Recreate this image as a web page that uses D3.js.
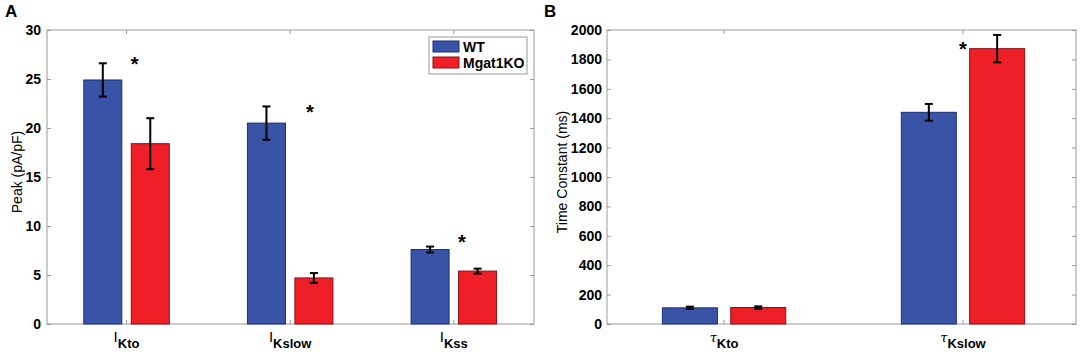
<!DOCTYPE html>
<html>
<head>
<meta charset="utf-8">
<script src="https://cdn.jsdelivr.net/npm/d3@7"></script>
<style>
  body { margin: 0; background: #fff; }
  svg { font-family: "Liberation Sans", Arial, sans-serif; }
  .tick text { font-weight: bold; font-size: 14px; fill: #000; }
</style>
</head>
<body>
<svg width="1084" height="354"></svg>
<script>
var svg = d3.select("svg");

// panel A data
var groupsA = ["Kto", "Kslow", "Kss"];
var wtA = [24.9, 20.5, 7.6];
var wtErrA = [1.7, 1.7, 0.3];
var koA = [18.4, 4.7, 5.4];
var koErrA = [2.6, 0.5, 0.25];
// significance stars: x offset (category units) and height (data units)
var starXA = [0.05, 0.12, 0.05];
var starYA = [26.6, 21.7, 8.5];

// panel B data
var groupsB = ["Kto", "Kslow"];
var wtB = [110, 1440];
var wtErrB = [8, 57];
var koB = [112, 1873];
var koErrB = [8, 93];
var starXB = [null, 0];
var starYB = [null, 1880];

var blue = "#3953a6", red = "#ee1f26";
var series = ["WT", "Mgat1KO"];

function panel(opt) {
  var x = d3.scaleLinear().domain(opt.xdom).range(opt.xr);
  var y = d3.scaleLinear().domain(opt.ydom).range([324, 30]);
  var g = svg.append("g");

  // frame
  g.append("rect")
    .attr("x", opt.xr[0]).attr("y", 30)
    .attr("width", opt.xr[1] - opt.xr[0]).attr("height", 294)
    .attr("fill", "none").attr("stroke", "#999").attr("stroke-width", 1);

  // y axis left and right
  var ya = g.append("g").attr("transform", "translate(" + opt.xr[0] + ",0)")
    .call(d3.axisLeft(y).tickValues(opt.yticks).tickSize(-4).tickPadding(opt.pad)
      .tickFormat(d3.format("d")));
  ya.select(".domain").remove();
  ya.selectAll("line").attr("stroke", "#999");
  var yr = g.append("g").attr("transform", "translate(" + opt.xr[1] + ",0)")
    .call(d3.axisRight(y).tickValues(opt.yticks).tickSize(-4).tickFormat(""));
  yr.select(".domain").remove();
  yr.selectAll("line").attr("stroke", "#999");

  // x ticks bottom and top
  var idx = d3.range(1, opt.groups.length + 1);
  g.selectAll(".xt").data(idx).enter().append("line")
    .attr("x1", d => x(d)).attr("x2", d => x(d))
    .attr("y1", 324).attr("y2", 320).attr("stroke", "#999");
  g.selectAll(".xt2").data(idx).enter().append("line")
    .attr("x1", d => x(d)).attr("x2", d => x(d))
    .attr("y1", 30).attr("y2", 34).attr("stroke", "#999");

  var sets = [
    { vals: opt.wt, err: opt.wtErr, off: -opt.off, fill: blue, stroke: "#1c2f7a" },
    { vals: opt.ko, err: opt.koErr, off: opt.off, fill: red, stroke: "#8a1015" }
  ];
  sets.forEach(function (s) {
    g.selectAll(null).data(s.vals).enter().append("rect")
      .attr("x", (d, i) => x(i + 1 + s.off) - opt.bw / 2)
      .attr("width", opt.bw)
      .attr("y", d => y(d))
      .attr("height", d => y(0) - y(d))
      .attr("fill", s.fill).attr("stroke", s.stroke).attr("stroke-width", 1);
    var eb = g.selectAll(null).data(s.vals).enter().append("g")
      .attr("stroke", "#000").attr("stroke-width", 2);
    eb.append("line")
      .attr("x1", (d, i) => x(i + 1 + s.off)).attr("x2", (d, i) => x(i + 1 + s.off))
      .attr("y1", (d, i) => y(d + s.err[i])).attr("y2", (d, i) => y(d - s.err[i]));
    [1, -1].forEach(function (sg) {
      eb.append("line")
        .attr("x1", (d, i) => x(i + 1 + s.off) - 4).attr("x2", (d, i) => x(i + 1 + s.off) + 4)
        .attr("y1", (d, i) => y(d + sg * s.err[i])).attr("y2", (d, i) => y(d + sg * s.err[i]));
    });
  });

  // asterisks
  opt.starX.forEach(function (sx, i) {
    if (sx == null) return;
    g.append("text")
      .attr("x", x(i + 1 + sx)).attr("y", y(opt.starY[i]) + 8)
      .attr("text-anchor", "middle").attr("font-size", 20).attr("font-weight", "bold")
      .text("*");
  });

  // x labels
  var lab = g.selectAll(null).data(opt.groups).enter().append("text")
    .attr("x", (d, i) => x(i + 1)).attr("y", 342)
    .attr("text-anchor", "middle").attr("font-size", 15).attr("fill", "#000");
  lab.append("tspan").attr("font-style", opt.sym == "τ" ? "italic" : "normal")
    .attr("font-family", opt.sym == "τ" ? "DejaVu Serif, serif" : null)
    .attr("font-size", opt.sym == "τ" ? 13 : 15)
    .text(opt.sym);
  lab.append("tspan").attr("dy", 6).attr("font-size", 13).attr("font-weight", "bold").text(d => d);

  // y label
  g.append("text")
    .attr("transform", "translate(" + opt.ylx + ",172) rotate(-90)")
    .attr("text-anchor", "middle").attr("font-size", 14).attr("fill", "#000")
    .text(opt.ylabel);

  // panel letter
  g.append("text").attr("x", opt.letterX).attr("y", 17)
    .attr("font-size", 17).attr("font-weight", "bold").text(opt.letter);

  return { x: x, y: y, g: g };
}

panel({
  groups: groupsA, wt: wtA, wtErr: wtErrA, ko: koA, koErr: koErrA,
  starX: starXA, starY: starYA,
  xdom: [0.514, 3.49], xr: [47, 534], ydom: [0, 30], yticks: d3.range(0, 31, 5),
  off: 0.145, bw: 38, pad: 6, sym: "I",
  ylabel: "Peak (pA/pF)", ylx: 22, letter: "A", letterX: 5
});

panel({
  groups: groupsB, wt: wtB, wtErr: wtErrB, ko: koB, koErr: koErrB,
  starX: starXB, starY: starYB,
  xdom: [0.51, 2.473], xr: [607, 1076], ydom: [0, 2000], yticks: d3.range(0, 2001, 200),
  off: 0.143, bw: 55, pad: 5, sym: "τ",
  ylabel: "Time Constant (ms)", ylx: 567, letter: "B", letterX: 544
});

// legend in panel A
var lg = svg.append("g").attr("transform", "translate(429,37)");
lg.append("rect").attr("width", 98).attr("height", 37)
  .attr("fill", "#fff").attr("stroke", "#999");
series.forEach(function (s, i) {
  lg.append("rect").attr("x", 4).attr("y", 4 + i * 16).attr("width", 26).attr("height", 11)
    .attr("fill", i ? red : blue).attr("stroke", i ? "#8a1015" : "#1c2f7a");
  lg.append("text").attr("x", 34).attr("y", 14.5 + i * 16)
    .attr("font-size", 14).attr("font-weight", "bold").text(s);
});
</script>
</body>
</html>
